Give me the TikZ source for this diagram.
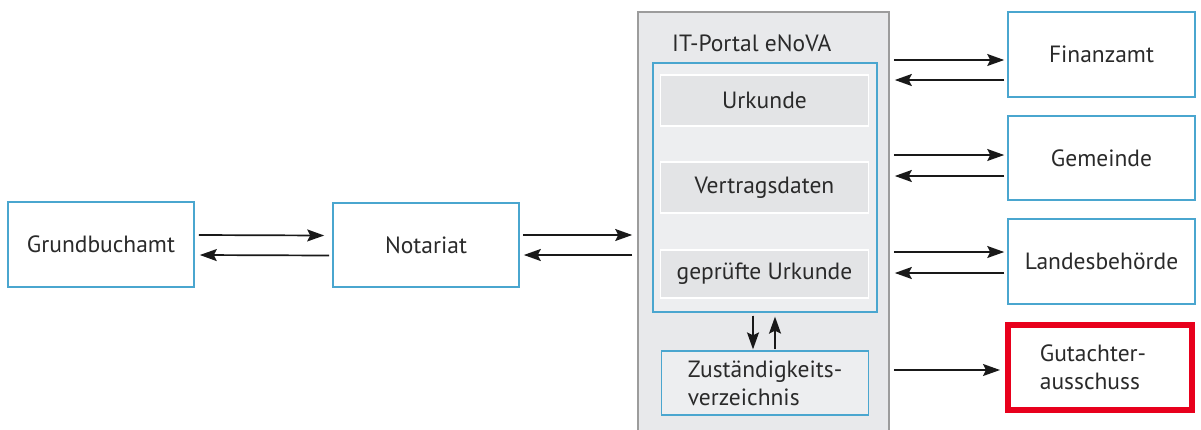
\documentclass[tikz,border=0pt]{standalone}
\usepackage{fontspec}
\setmainfont{PT Sans}
\usetikzlibrary{arrows.meta,calc}
\definecolor{boxblue}{HTML}{4AA6CF}
\definecolor{portalgray}{HTML}{E8E9EB}
\definecolor{portalline}{HTML}{9C9C9C}
\definecolor{innerfill}{HTML}{EDEEF0}
\definecolor{subfill}{HTML}{E3E4E6}
\definecolor{txt}{HTML}{2A2A2A}
\definecolor{alarm}{HTML}{E8001C}
\begin{document}
\begin{tikzpicture}[x=1pt,y=-1pt,
  every node/.style={font=\fontsize{23.5}{28}\selectfont,text=txt},
  box/.style={draw=boxblue,line width=1.6pt,fill=white,inner sep=0pt},
  subbox/.style={draw=white,line width=1.6pt,fill=subfill,inner sep=0pt},
  arr/.style={-{Stealth[length=17pt,width=12pt,inset=3pt]},line width=1.7pt,draw=black!90,fill=black!90}]
\useasboundingbox (0,0) rectangle (1201,429);
% portal
\node[draw=portalline,line width=1.6pt,fill=portalgray,minimum width=251pt,minimum height=420pt,inner sep=0pt] (portal) at (763.5,222) {};
\node[anchor=west,inner sep=0pt] (ptitle) at (672,43) {IT-Portal eNoVA};
\node[draw=boxblue,line width=1.3pt,fill=innerfill,minimum width=224pt,minimum height=249pt,inner sep=0pt] (inner) at (765,187.5) {};
\node[subbox,minimum width=208pt,minimum height=51pt] (urk) at (764.5,100.5) {Urkunde};
\node[subbox,minimum width=208pt,minimum height=51pt] (ver) at (764.5,187.5) {Vertragsdaten};
\node[subbox,minimum width=208pt,minimum height=48pt] (gep) at (764.5,274) {geprüfte Urkunde};
\node[box,fill=innerfill,line width=1.3pt,minimum width=207pt,minimum height=64pt,align=left] (zust) at (765,383) {Zuständigkeits-\\verzeichnis};
% left boxes
\node[box,minimum width=186pt,minimum height=85pt] (gba) at (101,244.5) {Grundbuchamt};
\node[box,minimum width=186pt,minimum height=84pt] (not) at (426,245) {Notariat};
% right boxes
\node[box,minimum width=187pt,minimum height=85pt] (fin) at (1101.5,54.5) {Finanzamt};
\node[box,minimum width=187pt,minimum height=84pt] (gem) at (1101.5,158) {Gemeinde};
\node[box,minimum width=187pt,minimum height=85pt] (lan) at (1101.5,261.5) {Landesbehörde};
\node[draw=alarm,line width=6pt,fill=white,inner sep=0pt,minimum width=184pt,minimum height=85pt] (gut) at (1100,367.5) {};
\node[align=left,inner sep=0pt] (guttext) at (1093,367.5) {Gutachter-\\ausschuss};
% arrows left
\draw[arr] ($(gba.east)+(4,-9.5)$) -- ($(not.west)+(-8,-9.5)$);
\draw[arr] ($(not.west)+(-3,10.5)$) -- ($(gba.east)+(5,10.5)$);
\draw[arr] ($(not.east)+(3,-10)$) -- ($(portal.west|-not.east)+(-5,-10)$);
\draw[arr] ($(portal.west|-not.east)+(-5,10)$) -- ($(not.east)+(4,10)$);
% arrows right
\draw[arr] ($(portal.east|-fin.west)+(4,5.5)$) -- ($(fin.west)+(-3,5.5)$);
\draw[arr] ($(fin.west)+(-3,25.5)$) -- ($(portal.east|-fin.west)+(5,25.5)$);
\draw[arr] ($(portal.east|-gem.west)+(4,-3)$) -- ($(gem.west)+(-3,-3)$);
\draw[arr] ($(gem.west)+(-3,18)$) -- ($(portal.east|-gem.west)+(5,18)$);
\draw[arr] ($(portal.east|-lan.west)+(4,-9.5)$) -- ($(lan.west)+(-3,-9.5)$);
\draw[arr] ($(lan.west)+(-3,11.5)$) -- ($(portal.east|-lan.west)+(5,11.5)$);
\draw[arr] ($(portal.east|-gut.west)+(4,2.5)$) -- ($(gut.west)+(-5,2.5)$);
% vertical arrows
\draw[arr] ($(inner.south)+(-12,3)$) -- ($(zust.north)+(-12,-1)$);
\draw[arr] ($(zust.north)+(10,-1)$) -- ($(inner.south)+(10,4)$);
\end{tikzpicture}
\end{document}
